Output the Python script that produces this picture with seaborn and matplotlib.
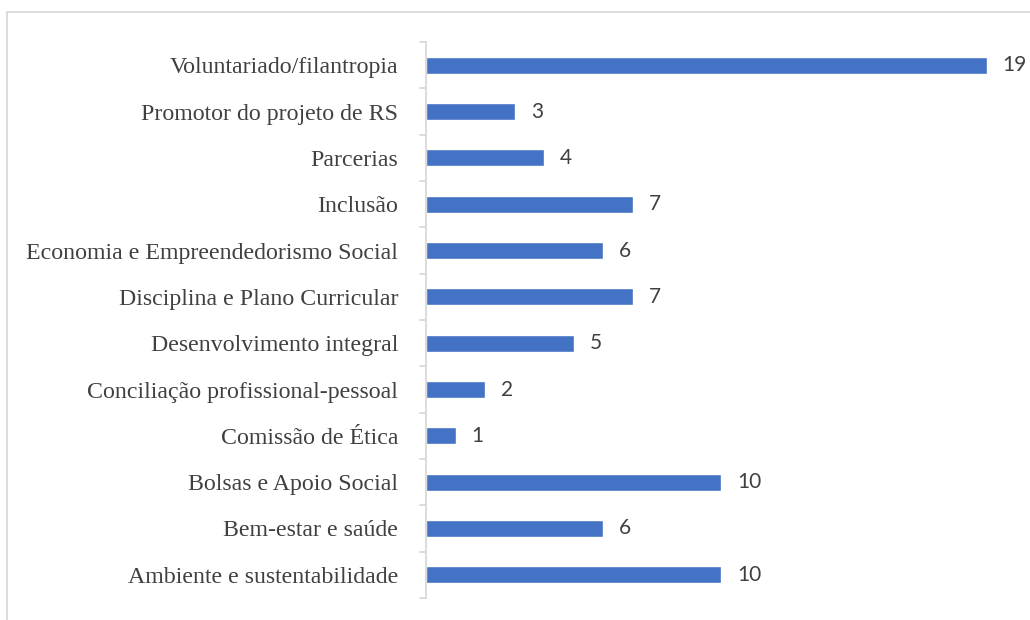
import pandas as pd
import seaborn as sns
import matplotlib.pyplot as plt
from matplotlib.patches import Rectangle

# Dados (de cima para baixo)
categorias = ['Voluntariado/filantropia', 'Promotor do projeto de RS', 'Parcerias',
              'Inclusão', 'Economia e Empreendedorismo Social',
              'Disciplina e Plano Curricular', 'Desenvolvimento integral',
              'Conciliação profissional-pessoal', 'Comissão de Ética',
              'Bolsas e Apoio Social', 'Bem-estar e saúde',
              'Ambiente e sustentabilidade']
valores = [19, 3, 4, 7, 6, 7, 5, 2, 1, 10, 6, 10]

df = pd.DataFrame({'categoria': categorias, 'valor': valores})

sns.set_style('white')
fig = plt.figure(figsize=(10.3, 6.2), dpi=100)
ax = fig.add_axes([426 / 1030, 1 - 598 / 620, 590 / 1030, 556 / 620])

sns.barplot(x='valor', y='categoria', data=df, orient='h', color='#4472C4',
            saturation=1, width=0.37, ax=ax)

ax.set_xlim(0, 20)
ax.set_ylim(len(categorias) - 0.5, -0.5)
ax.set_xlabel('')
ax.set_ylabel('')
ax.set_xticks([])

# rótulos das categorias
ax.set_yticks(range(len(categorias)))
ax.set_yticklabels(categorias, fontsize=17.2, color='#404040',
                   family=['Liberation Serif', 'DejaVu Serif'])
ax.tick_params(axis='y', length=0, pad=20)

# marcas nos limites das categorias
for b in [i - 0.5 for i in range(len(categorias) + 1)]:
    ax.plot([-6 / 29.5, 0], [b, b], color='#d9d9d9', lw=1.3, clip_on=False)

for s in ['top', 'right', 'bottom']:
    ax.spines[s].set_visible(False)
ax.spines['left'].set_color('#d9d9d9')
ax.spines['left'].set_linewidth(1.3)

# valores
for i, v in enumerate(valores):
    ax.text(v + 0.55, i, str(v), va='center', ha='left', fontsize=15,
            color='#404040', family=['Lato', 'DejaVu Sans'])

# moldura do gráfico (cortada à direita e em baixo)
fig.patches.append(Rectangle((7 / 1030, -0.1), 1.2, 1 - 12 / 620 + 0.1,
                             transform=fig.transFigure, fill=False,
                             edgecolor='#d9d9d9', lw=1.3))

plt.savefig('out.png', dpi=100)
